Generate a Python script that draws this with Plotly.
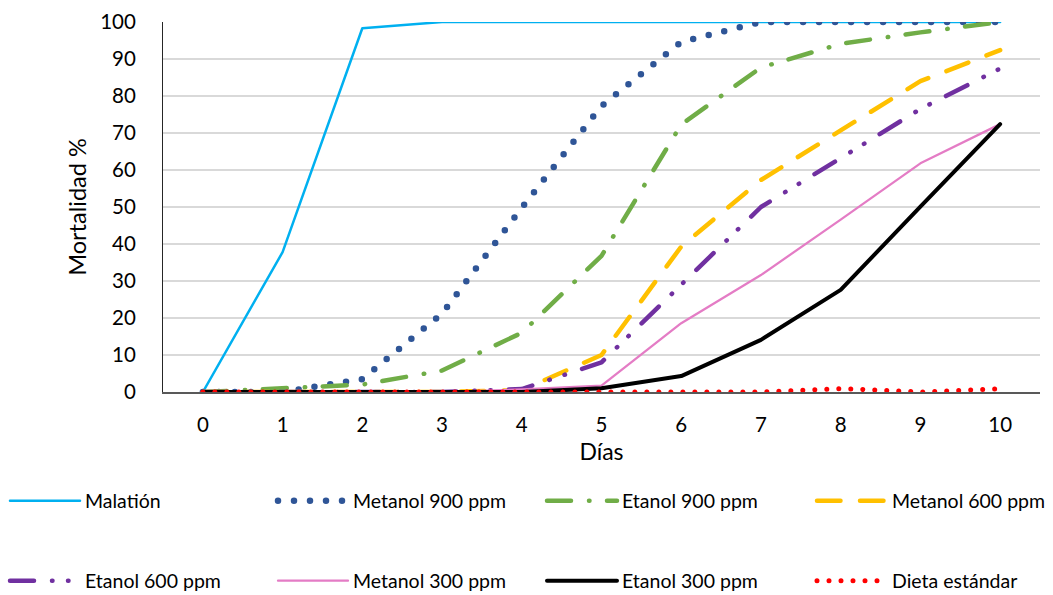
import plotly.graph_objects as go

# Días de exposición
dias = [0, 1, 2, 3, 4, 5, 6, 7, 8, 9, 10]

# Mortalidad acumulada (%) por tratamiento
malation = [0, 37.8, 98.3, 100, 100, 100, 100, 100, 100, 100, 100]
metanol_900 = [0, 0, 3.5, 21.2, 49.8, 77.3, 94.6, 100, 100, 100, 100]
etanol_900 = [0, 1.0, 2.0, 5.8, 16.0, 36.8, 72.3, 87.7, 94.1, 97.2, 100]
metanol_600 = [0, 0, 0, 0, 0.5, 10.0, 39.3, 57.3, 70.7, 84.0, 92.4]
etanol_600 = [0, 0, 0, 0, 0.8, 8.0, 29.0, 50.0, 63.2, 76.5, 87.4]
metanol_300 = [0, 0, 0, 0, 0.7, 1.7, 18.6, 31.6, 46.6, 61.8, 72.4]
etanol_300 = [0, 0, 0, 0, 0, 1.0, 4.3, 14.1, 27.6, 50.1, 72.4]
dieta_estandar = [0, 0, 0, 0, 0, 0, 0, 0, 0.9, 0, 0.9]

y_ticks = [0, 10, 20, 30, 40, 50, 60, 70, 80, 90, 100]

FONT = "Lato, 'Open Sans', sans-serif"

series = [
    ("Malatión", malation, "#00B0F0", 2.5, "solid"),
    ("Metanol 900 ppm", metanol_900, "#2F5597", 6.5, "0px,16px"),
    ("Etanol 900 ppm", etanol_900, "#70AD47", 4.5, "24px,18px,0.5px,17.5px"),
    ("Metanol 600 ppm", metanol_600, "#FFC000", 4.5, "23.5px,19.5px"),
    ("Etanol 600 ppm", etanol_600, "#7030A0", 4.5, "24px,18px,0.5px,15.5px,0.5px,18px"),
    ("Metanol 300 ppm", metanol_300, "#E47CC5", 2.25, "solid"),
    ("Etanol 300 ppm", etanol_300, "#000000", 4.0, "solid"),
    ("Dieta estándar", dieta_estandar, "#FF0000", 5.0, "0px,12px"),
]

# Legend grid below the chart: 4 columns x 2 rows (pixel positions in the page)
legend_cols = [5, 273, 542, 812]
legend_rows = [501, 581]

fig = go.Figure()
legends = {}
for i, (name, vals, color, width, dash) in enumerate(series):
    key = "legend" if i == 0 else f"legend{i + 1}"
    fig.add_trace(go.Scatter(
        x=dias, y=vals, name=name, mode="lines",
        line=dict(color=color, width=width, dash=dash),
        legend=key, showlegend=True,
    ))
    legends[key] = dict(
        visible=True,
        orientation="h",
        xref="container", yref="container",
        xanchor="left", yanchor="middle",
        x=legend_cols[i % 4] / 1053,
        y=1 - legend_rows[i // 4] / 595,
        itemwidth=70,
        font=dict(family=FONT, size=19.5, color="#000000"),
        bgcolor="rgba(0,0,0,0)",
    )

fig.update_layout(
    width=1053, height=595,
    showlegend=True,
    margin=dict(l=163, r=13, t=22, b=203, autoexpand=False),
    paper_bgcolor="white", plot_bgcolor="white",
    font=dict(family=FONT, size=20, color="#000000"),
    xaxis=dict(
        range=[-0.5, 10.5],
        tickmode="array", tickvals=dias, ticktext=[str(d) for d in dias],
        showgrid=False, zeroline=False,
        showline=True, linecolor="#595959", linewidth=2,
        ticks="", ticklabelstandoff=13,
        tickfont=dict(family=FONT, size=20.5, color="#000000"),
        title=dict(text="Días", font=dict(family=FONT, size=23, color="#000000"),
                   standoff=9),
    ),
    yaxis=dict(
        range=[0, 100],
        tickmode="array", tickvals=y_ticks,
        showgrid=True, gridcolor="#D9D9D9", gridwidth=1.5,
        zeroline=False,
        showline=True, linecolor="#262626", linewidth=1.2,
        ticks="", ticklabelstandoff=22,
        tickfont=dict(family=FONT, size=20.5, color="#000000"),
        title=dict(text="Mortalidad %", font=dict(family=FONT, size=23.5, color="#000000"),
                   standoff=6),
    ),
    **legends,
)

round_caps = """
var gd = document.getElementById('{plot_id}');
function roundCaps(){
  gd.querySelectorAll('path.js-line').forEach(function(p){
    p.style.strokeLinecap = 'round';
    p.style.strokeLinejoin = 'round';
  });
}
roundCaps();
gd.on('plotly_afterplot', roundCaps);
"""

fig.write_html("out.html", post_script=round_caps)
